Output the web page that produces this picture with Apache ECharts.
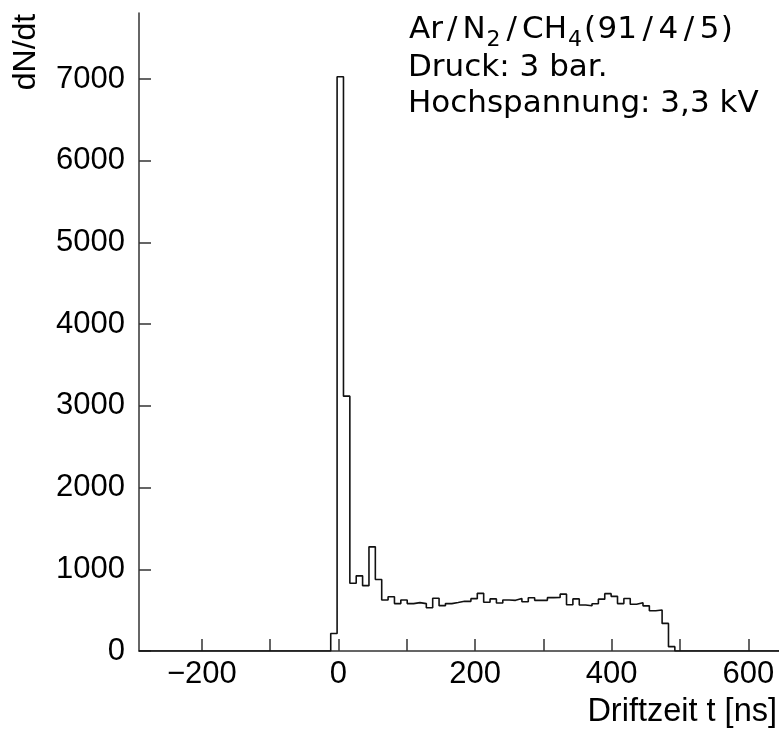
<!DOCTYPE html>
<html>
<head>
<meta charset="utf-8">
<script src="https://cdn.jsdelivr.net/npm/echarts@6/dist/echarts.min.js"></script>
<style>
html,body{margin:0;padding:0;background:#fff;}
#chart{width:779px;height:729px;}
</style>
</head>
<body>
<div id="chart"></div>
<script>
// Histogram: drift time bins (ns)
const binStart = -11.3;      // left edge of first bin [ns]
const binWidth = 9.33;       // bin width [ns]
const counts = [215, 7030, 3120, 830, 920, 800, 1275, 875, 625, 665,
  580, 624, 580, 592, 580, 530, 645, 555, 580, 594,
  608, 608, 641, 706, 596, 638, 588, 624, 620, 642,
  602, 651, 620, 620, 653, 655, 696, 567, 638, 563,
  553, 578, 635, 702, 669, 580, 642, 573, 591, 553,
  492, 502, 338, 53];
const xMin = -292, xMax = 645;
const yMin = 0, yMax = 7810;
const xTickValues = [-200, -100, 0, 100, 200, 300, 400, 500, 600];
const xLabelValues = [-200, 0, 200, 400, 600];
const yTickValues = [0, 1000, 2000, 3000, 4000, 5000, 6000, 7000];
const xTitle = 'Driftzeit t [ns]';
const yTitle = 'dN/dt';
const infoLines = ['Ar/N₂/CH₄(91/4/5)', 'Druck: 3 bar.', 'Hochspannung: 3,3 kV'];

const stepData = [[xMin, 0]];
counts.forEach((c, i) => stepData.push([binStart + i * binWidth, c]));
stepData.push([binStart + counts.length * binWidth, 0]);
stepData.push([xMax, 0]);

const axisFont = 'Liberation Sans';
const infoFont = 'DejaVu Sans';

// Line 1 with subscripts (rich text tokens)
const r = (pad) => ({fontSize: 31, fontFamily: infoFont, color: '#000', lineHeight: 42, verticalAlign: 'middle', padding: pad || 0});
const s = (pad) => ({fontSize: 22, fontFamily: infoFont, color: '#000', lineHeight: 22, verticalAlign: 'bottom', padding: pad || 0});
const line1Rich = {
  t: r(), sl: r([0, 5, 0, 4]), sm: r([0, 4, 0, 4]), d: r([0, 1.5, 0, 1.5]), sub: s([0, 2, 0, 1])
};
const line1Text = '{t|Ar}{sl|/}{t|N}{sub|2}{sl|/}{t|CH}{sub|4}{t|(}{d|91}{sm|/}{d|4}{sm|/}{d|5}{t|)}';

const chart = echarts.init(document.getElementById('chart'), null, {renderer: 'canvas'});
chart.setOption({
  animation: false,
  backgroundColor: '#fff',
  grid: {left: 139, right: 0, top: 13, bottom: 78, containLabel: false, outerBoundsMode: 'none'},
  xAxis: {
    type: 'value', min: xMin, max: xMax,
    axisLine: {show: true, onZero: false, lineStyle: {color: '#333', width: 1.5}},
    axisTick: {show: true, inside: true, length: 12, customValues: xTickValues, lineStyle: {color: '#333', width: 1.5}},
    axisLabel: {customValues: xLabelValues, fontSize: 31, fontFamily: axisFont, color: '#000', margin: 8,
      formatter: v => String(v).replace('-', '\u2212')},
    splitLine: {show: false}
  },
  yAxis: {
    type: 'value', min: yMin, max: yMax,
    axisLine: {show: true, onZero: false, lineStyle: {color: '#333', width: 1.5}},
    axisTick: {show: true, inside: true, length: 12, customValues: yTickValues, lineStyle: {color: '#333', width: 1.5}},
    axisLabel: {customValues: yTickValues, fontSize: 31, fontFamily: axisFont, color: '#000', margin: 14,
      formatter: v => String(v)},
    splitLine: {show: false}
  },
  series: [{
    type: 'line', step: 'end', data: stepData, symbol: 'none',
    lineStyle: {color: '#111', width: 1.6}
  }],
  graphic: [
    {type: 'text', x: 26, y: 52, rotation: Math.PI / 2,
      style: {text: yTitle, fontSize: 32, fontFamily: axisFont, fill: '#000', align: 'center', verticalAlign: 'middle', textAlign: 'center', textVerticalAlign: 'middle'}},
    {type: 'text', x: 777, y: 712,
      style: {text: xTitle, fontSize: 32.5, fontFamily: axisFont, fill: '#000', align: 'right', verticalAlign: 'middle', textAlign: 'right', textVerticalAlign: 'middle'}},
    {type: 'text', x: 409, y: 30,
      style: {text: line1Text, rich: line1Rich, fontSize: 31, fontFamily: infoFont, fill: '#000', align: 'left', verticalAlign: 'middle', textAlign: 'left', textVerticalAlign: 'middle'}},
    {type: 'text', x: 408, y: 68,
      style: {text: infoLines[1], fontSize: 31, fontFamily: infoFont, fill: '#000', align: 'left', verticalAlign: 'middle', textAlign: 'left', textVerticalAlign: 'middle'}},
    {type: 'text', x: 408, y: 104,
      style: {text: infoLines[2], fontSize: 31, fontFamily: infoFont, fill: '#000', align: 'left', verticalAlign: 'middle', textAlign: 'left', textVerticalAlign: 'middle'}}
  ]
});
</script>
</body>
</html>
